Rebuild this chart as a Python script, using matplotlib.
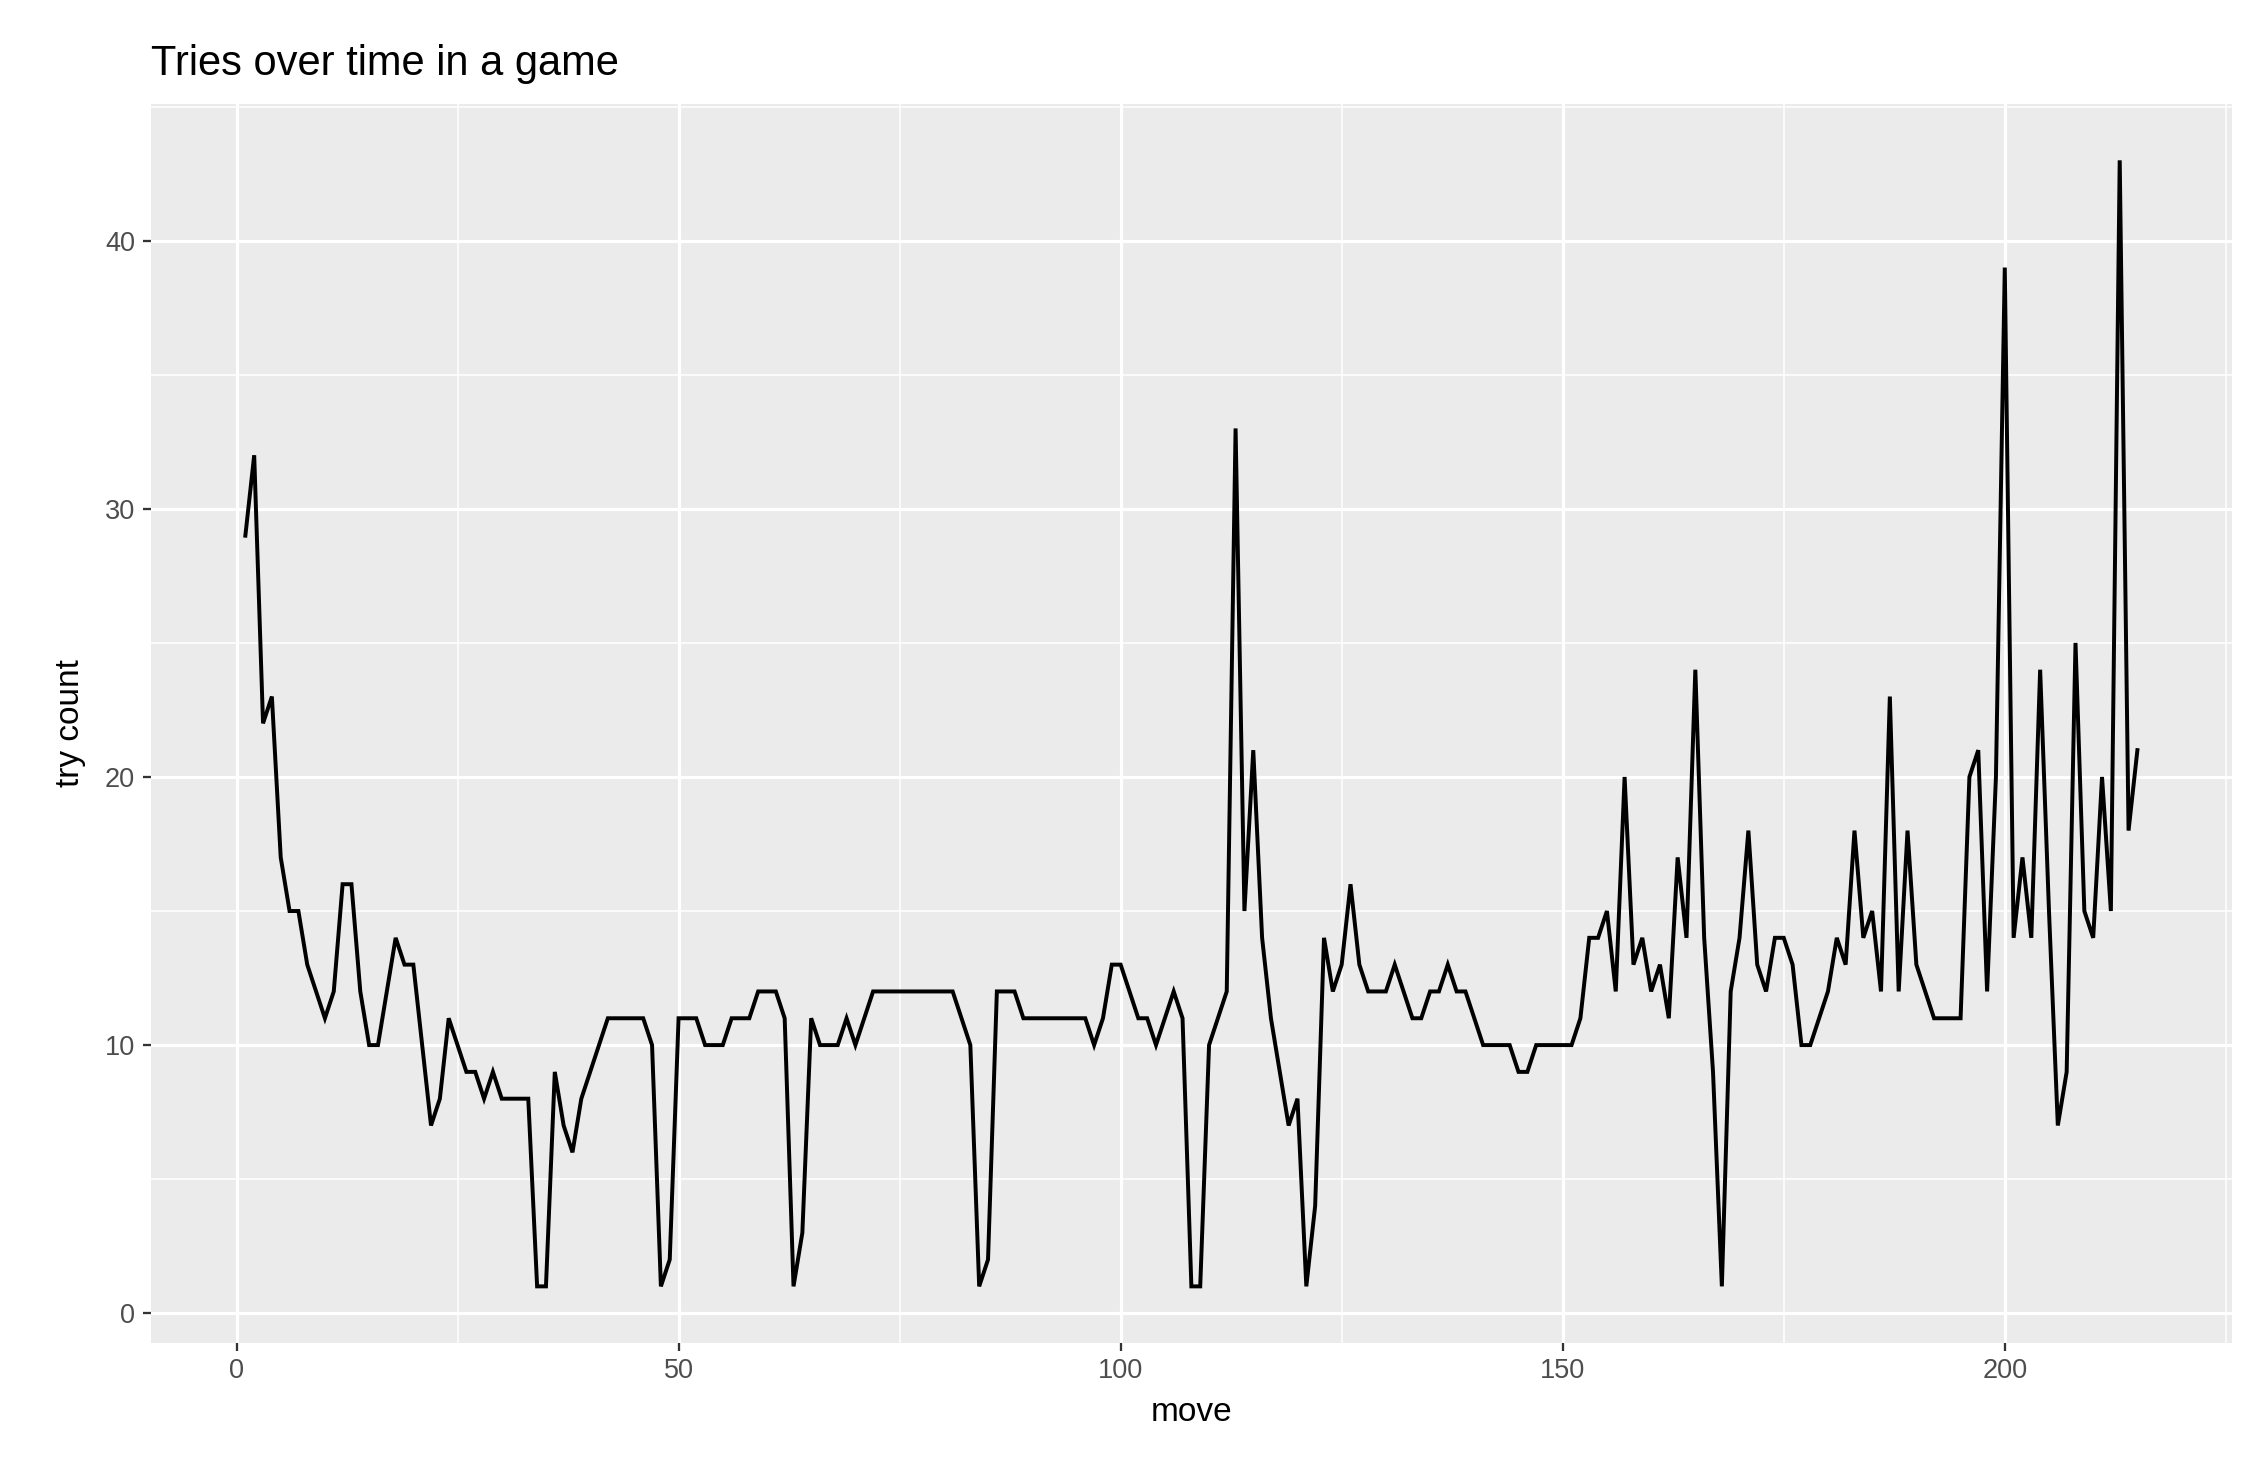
import matplotlib
matplotlib.use("Agg")
import matplotlib.pyplot as plt
from matplotlib.ticker import MultipleLocator

plt.rcParams['font.family'] = ['Liberation Sans', 'DejaVu Sans']

tries = [29,32,22,23,17,15,15,13,12,11,12,16,16,12,10,10,12,14,13,13,
         10,7,8,11,10,9,9,8,9,8,8,8,8,1,1,9,7,6,8,9,
         10,11,11,11,11,11,10,1,2,11,11,11,10,10,10,11,11,11,12,12,
         12,11,1,3,11,10,10,10,11,10,11,12,12,12,12,12,12,12,12,12,
         12,11,10,1,2,12,12,12,11,11,11,11,11,11,11,11,10,11,13,13,
         12,11,11,10,11,12,11,1,1,10,11,12,33,15,21,14,11,9,7,8,
         1,4,14,12,13,16,13,12,12,12,13,12,11,11,12,12,13,12,12,11,
         10,10,10,10,9,9,10,10,10,10,10,11,14,14,15,12,20,13,14,12,
         13,11,17,14,24,14,9,1,12,14,18,13,12,14,14,13,10,10,11,12,
         14,13,18,14,15,12,23,12,18,13,12,11,11,11,11,20,21,12,20,39,
         14,17,14,24,15,7,9,25,15,14,20,15,43,18,21]
moves = list(range(1, len(tries) + 1))
x_ticks = [0, 50, 100, 150, 200]
y_ticks = [0, 10, 20, 30, 40]

fig = plt.figure(figsize=(15, 9.7667), dpi=150)
ax = fig.add_axes([0.067, 0.0835, 0.925, 0.8455])
ax.set_facecolor("#EBEBEB")
ax.plot(moves, tries, color="black", lw=1.9, solid_joinstyle="miter")
xr = max(moves) - min(moves); yr = max(tries) - min(tries)
ax.set_xlim(min(moves) - 0.05 * xr, max(moves) + 0.05 * xr)
ax.set_ylim(min(tries) - 0.05 * yr, max(tries) + 0.05 * yr)
ax.set_xticks(x_ticks); ax.set_yticks(y_ticks)
ax.xaxis.set_minor_locator(MultipleLocator(25))
ax.yaxis.set_minor_locator(MultipleLocator(5))
ax.grid(which="major", color="white", lw=1.5)
ax.grid(which="minor", color="white", lw=0.75)
ax.set_axisbelow(True)
for s in ax.spines.values():
    s.set_visible(False)
ax.tick_params(which="major", length=4, width=1.1, color="#333333", labelcolor="#4D4D4D", labelsize=13)
ax.tick_params(which="minor", length=0)
ax.set_xlabel("move", fontsize=16, color="black", labelpad=6)
ax.set_ylabel("try count", fontsize=16, color="black", labelpad=9)
ax.set_title("Tries over time in a game", fontsize=20, loc="left", pad=14)
fig.savefig("out.png", dpi=150)
